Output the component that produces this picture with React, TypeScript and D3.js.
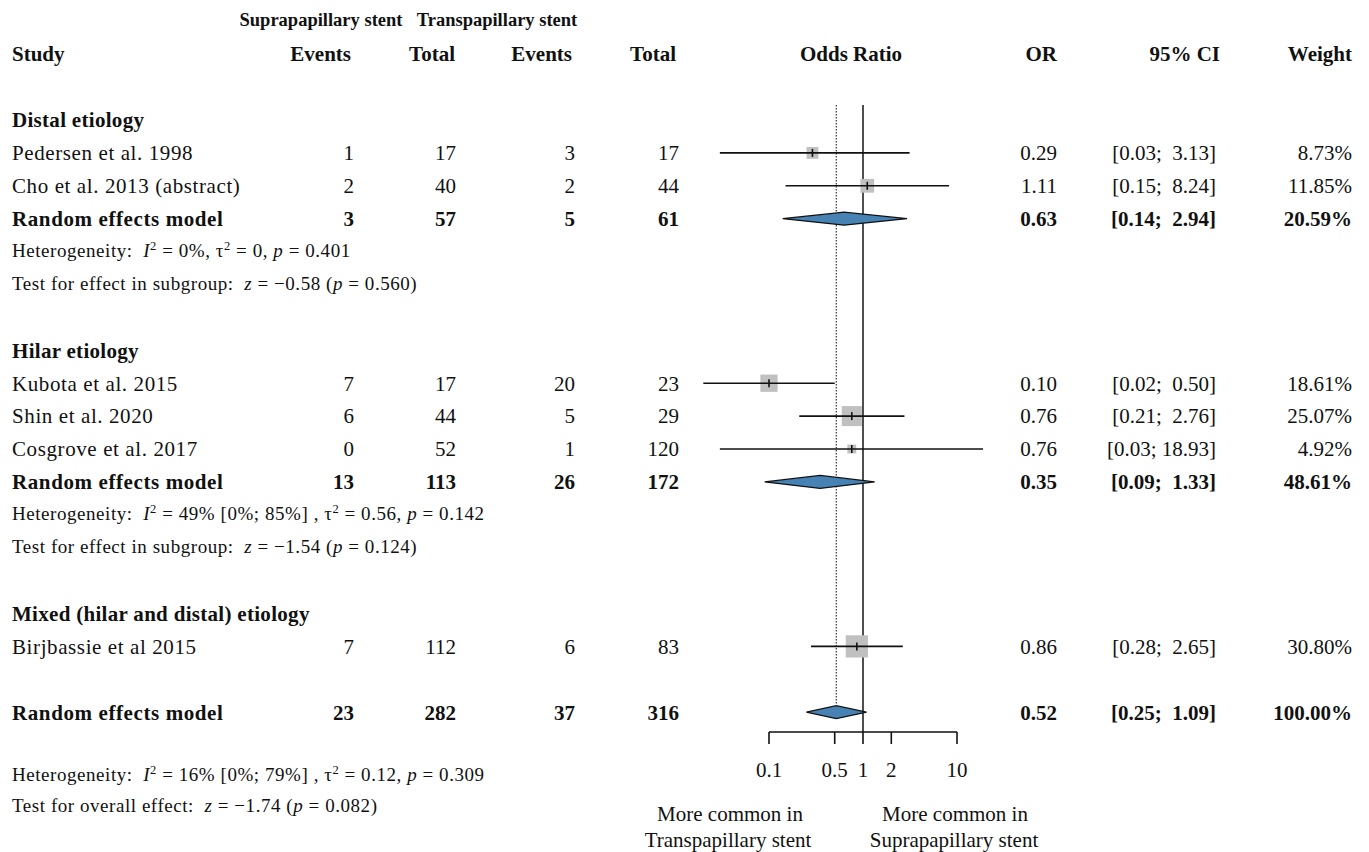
import React from "react";
import * as d3 from "d3";

// study level data
const groupNames = ["Distal etiology", "Hilar etiology", "Mixed (hilar and distal) etiology"];
const studyNames = ["Pedersen et al. 1998", "Cho et al. 2013 (abstract)", "Kubota et al. 2015", "Shin et al. 2020", "Cosgrove et al. 2017", "Birjbassie et al 2015"];
const studyGroup = [0, 0, 1, 1, 1, 2];
const evSupra = [1, 2, 7, 6, 0, 7];
const totSupra = [17, 40, 17, 44, 52, 112];
const evTrans = [3, 2, 20, 5, 1, 6];
const totTrans = [17, 44, 23, 29, 120, 83];
const orVals = [0.29, 1.11, 0.10, 0.76, 0.76, 0.86];
const ciLo = [0.03, 0.15, 0.02, 0.21, 0.03, 0.28];
const ciHi = [3.13, 8.24, 0.50, 2.76, 18.93, 2.65];
const weights = [8.73, 11.85, 18.61, 25.07, 4.92, 30.80];

// pooled: distal, hilar, overall
const poolEvSupra = [3, 13, 23];
const poolTotSupra = [57, 113, 282];
const poolEvTrans = [5, 26, 37];
const poolTotTrans = [61, 172, 316];
const poolOR = [0.63, 0.35, 0.52];
const poolLo = [0.14, 0.09, 0.25];
const poolHi = [2.94, 1.33, 1.09];
const poolW = [20.59, 48.61, 100.0];
const hetI2 = ["0%", "49% [0%; 85%] ", "16% [0%; 79%] "];
const hetTau2 = ["0", "0.56", "0.12"];
const hetP = ["0.401", "0.142", "0.309"];
const testZ = ["\u22120.58", "\u22121.54", "\u22121.74"];
const testP = ["0.560", "0.124", "0.082"];

const axisTicks = [0.1, 0.5, 1, 2, 10];
const axisLabels = ["0.1", "0.5", "1", "2", "10"];

const FONT = "'Liberation Serif', 'Times New Roman', serif";
const FS = 21;
const FS_SMALL = 19;

const x = d3.scaleLog().domain([0.1, 10]).range([769, 957]);
const row = d3.scaleLinear().domain([0, 1]).range([120, 152.9]);
const sq = d3.scaleSqrt().domain([0, 100]).range([0, 40]);

const fmt2 = d3.format(".2f");
const ciText = (lo: number, hi: number) => {
  const h = fmt2(hi);
  return `[${fmt2(lo)};${h.length < 5 ? "  " : " "}${h}]`;
};
const pct = (w: number) => fmt2(w) + "%";

const COL = { evS: 354, totS: 456, evT: 575, totT: 679, or: 1057, ci: 1216, w: 1352 };

function Txt({ x: tx, y, anchor = "start", bold = false, size = FS, ls = 0, children }: any) {
  return (
    <text x={tx} y={y} dy="0.35em" textAnchor={anchor} fontWeight={bold ? "bold" : "normal"} fontSize={size} letterSpacing={ls} style={{ whiteSpace: "pre" }}>
      {children}
    </text>
  );
}

function HetLine({ y, k }: any) {
  return (
    <text x={12} y={y} dy="0.35em" fontSize={FS_SMALL} letterSpacing={0.55} style={{ whiteSpace: "pre" }}>
      <tspan>{"Heterogeneity:  "}</tspan>
      <tspan fontStyle="italic">I</tspan>
      <tspan dy={-7} fontSize={12.5}>2</tspan>
      <tspan dy={7}>{` = ${hetI2[k]}, \u03c4`}</tspan>
      <tspan dy={-7} fontSize={12.5}>2</tspan>
      <tspan dy={7}>{` = ${hetTau2[k]}, `}</tspan>
      <tspan fontStyle="italic">p</tspan>
      <tspan>{` = ${hetP[k]}`}</tspan>
    </text>
  );
}

function TestLine({ y, k, overall }: any) {
  return (
    <text x={12} y={y} dy="0.35em" fontSize={FS_SMALL} letterSpacing={0.55} style={{ whiteSpace: "pre" }}>
      <tspan>{overall ? "Test for overall effect:  " : "Test for effect in subgroup:  "}</tspan>
      <tspan fontStyle="italic">z</tspan>
      <tspan>{` = ${testZ[k]} (`}</tspan>
      <tspan fontStyle="italic">p</tspan>
      <tspan>{` = ${testP[k]})`}</tspan>
    </text>
  );
}

function Diamond({ y, k }: any) {
  const h = 6.5;
  const pts = [[x(poolLo[k]), y], [x(poolOR[k]), y - h], [x(poolHi[k]), y], [x(poolOR[k]), y + h]];
  return <polygon points={pts.map((p) => p.join(",")).join(" ")} fill="#4682b4" stroke="#111" strokeWidth={1.2} />;
}

function NumCols({ y, vals, bold }: any) {
  const keys = ["evS", "totS", "evT", "totT", "or", "ci", "w"];
  return (
    <>
      {vals.map((v: string, i: number) => (
        <Txt key={i} x={(COL as any)[keys[i]]} y={y} anchor="end" bold={bold}>{v}</Txt>
      ))}
    </>
  );
}

export default function App() {
  // layout rows
  const groupStart = [0, 7, 15];
  const items: any[] = [];
  groupNames.forEach((g, gi) => {
    const r0 = groupStart[gi];
    items.push({ type: "title", r: r0, gi });
    const idx = studyNames.map((_, i) => i).filter((i) => studyGroup[i] === gi);
    idx.forEach((si, j) => items.push({ type: "study", r: r0 + 1 + j, si }));
    if (idx.length > 1) {
      const rp = r0 + 1 + idx.length;
      items.push({ type: "pool", r: rp, k: gi });
      items.push({ type: "het", r: rp + 0.95, k: gi });
      items.push({ type: "test", r: rp + 1.95, k: gi });
    }
  });
  items.push({ type: "pool", r: 18, k: 2 });
  items.push({ type: "het", r: 19.9, k: 2, overall: true });
  items.push({ type: "test", r: 20.82, k: 2, overall: true });

  const axisY = 732;
  const topY = 105;

  return (
    <svg width={1369} height={852} style={{ position: "absolute", left: 0, top: 0, background: "#fff" }} fontFamily={FONT} fill="#111">
      {/* headers */}
      <Txt x={321} y={20} anchor="middle" bold size={18.5}>Suprapapillary stent</Txt>
      <Txt x={497} y={20} anchor="middle" bold size={18.5}>Transpapillary stent</Txt>
      <Txt x={12} y={54} bold>Study</Txt>
      <Txt x={351} y={54} anchor="end" bold>Events</Txt>
      <Txt x={455} y={54} anchor="end" bold>Total</Txt>
      <Txt x={572} y={54} anchor="end" bold>Events</Txt>
      <Txt x={676} y={54} anchor="end" bold>Total</Txt>
      <Txt x={851} y={54} anchor="middle" bold>Odds Ratio</Txt>
      <Txt x={1057} y={54} anchor="end" bold>OR</Txt>
      <Txt x={1220} y={54} anchor="end" bold>95% CI</Txt>
      <Txt x={1352} y={54} anchor="end" bold>Weight</Txt>

      {/* reference lines */}
      <line x1={x(poolOR[2])} x2={x(poolOR[2])} y1={topY} y2={row(18) - 8} stroke="#444" strokeWidth={1.3} strokeDasharray="1.5,1.5" />
      <line x1={x(1)} x2={x(1)} y1={topY} y2={axisY} stroke="#222" strokeWidth={1.6} />

      {items.map((it, i) => {
        const y = row(it.r);
        if (it.type === "title") return <Txt key={i} x={12} y={y} bold ls={0.3}>{groupNames[it.gi]}</Txt>;
        if (it.type === "het") return <HetLine key={i} y={y} k={it.k} />;
        if (it.type === "test") return <TestLine key={i} y={y} k={it.k} overall={it.overall} />;
        if (it.type === "study") {
          const s = it.si;
          const size = sq(weights[s]);
          return (
            <g key={i}>
              <Txt x={12} y={y} ls={0.6}>{studyNames[s]}</Txt>
              <NumCols y={y} vals={[String(evSupra[s]), String(totSupra[s]), String(evTrans[s]), String(totTrans[s]), fmt2(orVals[s]), ciText(ciLo[s], ciHi[s]), pct(weights[s])]} />
              <rect x={x(orVals[s]) - size / 2} y={y - size / 2} width={size} height={size} fill="#c0c0c0" />
              <line x1={x(ciLo[s])} x2={x(ciHi[s])} y1={y} y2={y} stroke="#111" strokeWidth={1.6} />
              <line x1={x(orVals[s])} x2={x(orVals[s])} y1={y - 4} y2={y + 4} stroke="#111" strokeWidth={1.6} />
            </g>
          );
        }
        const k = it.k;
        return (
          <g key={i}>
            <Txt x={12} y={y} bold ls={0.6}>Random effects model</Txt>
            <NumCols y={y} bold vals={[String(poolEvSupra[k]), String(poolTotSupra[k]), String(poolEvTrans[k]), String(poolTotTrans[k]), fmt2(poolOR[k]), ciText(poolLo[k], poolHi[k]), pct(poolW[k])]} />
            <Diamond y={y} k={k} />
          </g>
        );
      })}

      {/* axis */}
      <line x1={x(0.1)} x2={x(10)} y1={axisY} y2={axisY} stroke="#111" strokeWidth={1.6} />
      {axisTicks.map((t, i) => (
        <g key={t}>
          <line x1={x(t)} x2={x(t)} y1={axisY} y2={axisY + 12} stroke="#111" strokeWidth={1.6} />
          <Txt x={x(t)} y={770} anchor="middle">{axisLabels[i]}</Txt>
        </g>
      ))}
      <Txt x={730} y={814} anchor="middle">More common in</Txt>
      <Txt x={728} y={840} anchor="middle">Transpapillary stent</Txt>
      <Txt x={955} y={814} anchor="middle">More common in</Txt>
      <Txt x={954} y={840} anchor="middle">Suprapapillary stent</Txt>
    </svg>
  );
}
